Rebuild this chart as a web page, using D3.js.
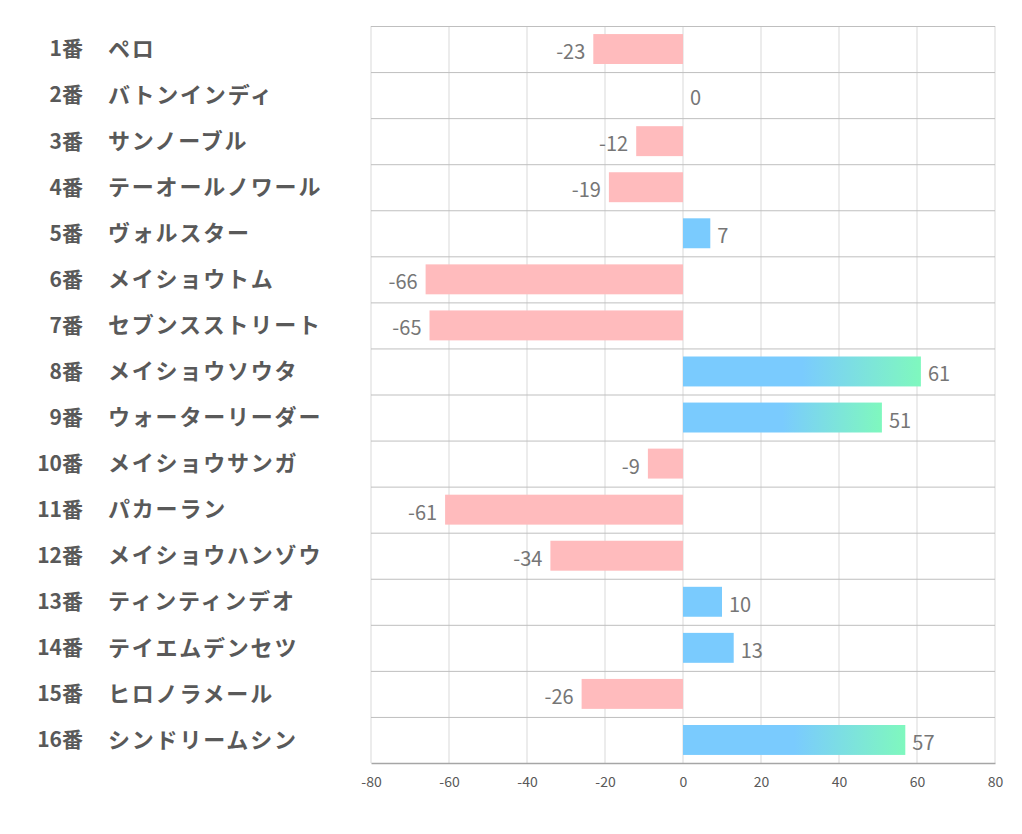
<!DOCTYPE html>
<html>
<head>
<meta charset="utf-8">
<script src="https://cdn.jsdelivr.net/npm/d3@7"></script>
<style>
  body { margin: 0; background: #fff; }
  #chart { width: 1022px; height: 834px; }
</style>
</head>
<body>
<div id="chart"></div>
<script>
const numbers = ["1番","2番","3番","4番","5番","6番","7番","8番","9番","10番","11番","12番","13番","14番","15番","16番"];
const horses = ["ペロ","バトンインディ","サンノーブル","テーオールノワール","ヴォルスター","メイショウトム","セブンスストリート","メイショウソウタ","ウォーターリーダー","メイショウサンガ","パカーラン","メイショウハンゾウ","ティンティンデオ","テイエムデンセツ","ヒロノラメール","シンドリームシン"];
const values = [-23, 0, -12, -19, 7, -66, -65, 61, 51, -9, -61, -34, 10, 13, -26, 57];
const ticks = [-80, -60, -40, -20, 0, 20, 40, 60, 80];

const W = 1022, H = 834;
const margin = { top: 26, right: 27, bottom: 71, left: 371 };
const width = W - margin.left - margin.right;
const height = H - margin.top - margin.bottom;
const font = "'Noto Sans CJK JP', 'Noto Sans', sans-serif";

const svg = d3.select("#chart").append("svg")
  .attr("width", W).attr("height", H)
  .style("font-family", font);

const defs = svg.append("defs");
const grad = defs.append("linearGradient").attr("id", "grad")
  .attr("x1", "0").attr("x2", "1").attr("y1", "0").attr("y2", "0");
grad.append("stop").attr("offset", "0.5").attr("stop-color", "#7ACBFE");
grad.append("stop").attr("offset", "1").attr("stop-color", "#7FF8BE");

const g = svg.append("g").attr("transform", `translate(${margin.left},${margin.top})`);

const x = d3.scaleLinear().domain([-80, 80]).range([0, width]);
const y = d3.scaleBand().domain(d3.range(horses.length)).range([0, height]).paddingInner(0).paddingOuter(0);
const barH = y.bandwidth() * 0.65;

// vertical grid
g.selectAll("line.vg").data(ticks).enter().append("line")
  .attr("x1", d => x(d)).attr("x2", d => x(d))
  .attr("y1", 0).attr("y2", height)
  .attr("stroke", "#d9d9d9").attr("stroke-width", 1);

// row separators
g.selectAll("line.hg").data(d3.range(horses.length)).enter().append("line")
  .attr("x1", 0).attr("x2", width)
  .attr("y1", d => y(d) + 0.5).attr("y2", d => y(d) + 0.5)
  .attr("stroke", "#bfbfbf").attr("stroke-width", 1);

// bars
g.selectAll("rect.bar").data(values).enter().append("rect")
  .attr("x", d => x(Math.min(0, d)))
  .attr("width", d => Math.abs(x(d) - x(0)))
  .attr("y", (d, i) => y(i) + (y.bandwidth() - barH) / 2)
  .attr("height", barH)
  .attr("fill", d => d < 0 ? "#FFBBBD" : (d >= 50 ? "url(#grad)" : "#7ACBFE"));

// value labels
g.selectAll("text.val").data(values).enter().append("text")
  .attr("x", d => d < 0 ? x(d) - 8 : x(d) + 7)
  .attr("y", (d, i) => y(i) + y.bandwidth() / 2 + 3)
  .attr("dy", "0.35em")
  .attr("text-anchor", d => d < 0 ? "end" : "start")
  .attr("fill", "#767676")
  .style("font-size", "20px")
  .text(d => d);

// x axis
const ax = g.append("g").attr("transform", `translate(0,${height})`)
  .call(d3.axisBottom(x).tickValues(ticks).tickSize(0).tickPadding(14).tickFormat(d => String(d)));
ax.select(".domain").attr("stroke", "#a6a6a6").attr("stroke-width", 1.5);
ax.selectAll("text").attr("fill", "#595959").style("font-size", "14px").style("font-family", font);

// row labels
const labels = svg.append("g");
labels.selectAll("text.num").data(numbers).enter().append("text")
  .attr("x", 83)
  .attr("y", (d, i) => margin.top + y(i) + y.bandwidth() / 2)
  .attr("dy", "0.35em")
  .attr("text-anchor", "end")
  .attr("fill", "#595959")
  .style("font-size", "21px").style("font-weight", "bold")
  .text(d => d);
labels.selectAll("text.name").data(horses).enter().append("text")
  .attr("x", 108)
  .attr("y", (d, i) => margin.top + y(i) + y.bandwidth() / 2)
  .attr("dy", "0.35em")
  .attr("fill", "#595959")
  .style("font-size", "22px").style("font-weight", "bold")
  .style("letter-spacing", "1.8px")
  .text(d => d);
</script>
</body>
</html>
